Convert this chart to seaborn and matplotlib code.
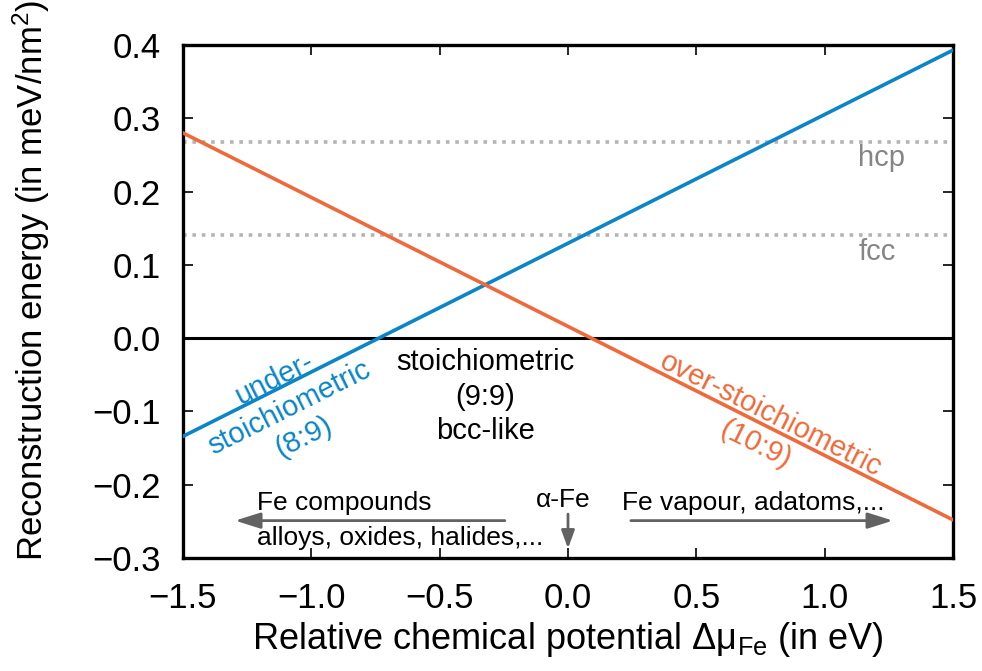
import matplotlib
matplotlib.use("Agg")
import matplotlib.pyplot as plt
import seaborn as sns
import pandas as pd
import numpy as np

# ---- data ----
mu_fe = [-1.5, 1.5]
under_stoich = [-0.134, 0.393]   # (8:9)
over_stoich = [0.280, -0.248]    # (10:9)
hcp_level = 0.268
fcc_level = 0.141
x_ticks = [-1.5, -1.0, -0.5, 0.0, 0.5, 1.0, 1.5]
y_ticks = [-0.3, -0.2, -0.1, 0.0, 0.1, 0.2, 0.3, 0.4]

BLUE = "#0a85c8"
ORANGE = "#f0693a"
GRAY_TXT = "#858585"
GRAY_DOT = "#b4b4b4"
ARROW = "#626262"

sns.set_theme(style="ticks")
plt.rcParams['font.family'] = ['Liberation Sans', 'DejaVu Sans']
plt.rcParams['mathtext.fontset'] = 'custom'
plt.rcParams['mathtext.rm'] = 'Liberation Sans'
plt.rcParams['mathtext.it'] = 'Liberation Sans:italic'
plt.rcParams['text.color'] = 'black'
plt.rcParams['axes.labelcolor'] = 'black'

df = pd.DataFrame({
    "mu": mu_fe * 2,
    "E": under_stoich + over_stoich,
    "series": ["under"] * len(mu_fe) + ["over"] * len(mu_fe),
})

fig = plt.figure(figsize=(9.82, 6.71), dpi=100)
ax = fig.add_axes([183 / 982, 1 - 558 / 671, 770 / 982, 513 / 671])

ax.axhline(hcp_level, color=GRAY_DOT, ls=(0, (1, 1.6)), lw=2.6, zorder=1)
ax.axhline(fcc_level, color=GRAY_DOT, ls=(0, (1, 1.6)), lw=2.6, zorder=1)
ax.axhline(0.0, color="black", lw=2.2, zorder=2)

sns.lineplot(data=df, x="mu", y="E", hue="series",
             palette={"under": BLUE, "over": ORANGE}, lw=2.6,
             legend=False, ax=ax, zorder=3)

ax.set_xlim(-1.5, 1.5)
ax.set_ylim(-0.3, 0.4)
ax.set_xticks(x_ticks)
ax.set_yticks(y_ticks)
ax.set_xticklabels([f"{v:.1f}".replace("-", "\u2212") for v in x_ticks])
ax.set_yticklabels([f"{v:.1f}".replace("-", "\u2212") for v in y_ticks])
ax.tick_params(direction="in", length=7, width=1.2, labelsize=25,
               top=True, right=True, colors="black")
ax.tick_params(axis="y", pad=16)
ax.tick_params(axis="x", pad=17)
for s in ax.spines.values():
    s.set_linewidth(2.4)
    s.set_color("black")
    s.set_visible(True)

ax.set_xlabel("Relative chemical potential \u0394\u03bc$_{\\mathrm{Fe}}$ (in eV)",
              fontsize=26, labelpad=4, color="black")
ax.set_ylabel("Reconstruction energy (in meV/nm$^{2}$)", fontsize=25, color="black")
ax.yaxis.set_label_coords(-0.170, 0.542)

# angle of lines on screen
def screen_angle(xs, ys):
    p = ax.transData.transform(np.column_stack([xs, ys]))
    d = p[1] - p[0]
    return np.degrees(np.arctan2(d[1], d[0]))

ang_u = screen_angle(mu_fe, under_stoich)
ang_o = screen_angle(mu_fe, over_stoich)

fs = 21
ax.text(-1.087, -0.095, "under-\nstoichiometric\n(8:9)", color=BLUE, fontsize=fs,
        rotation=ang_u, rotation_mode="anchor", ha="center", va="center",
        multialignment="center", linespacing=1.2)
ax.text(0.76, -0.125, "over-stoichiometric\n(10:9)", color=ORANGE, fontsize=fs,
        rotation=ang_o, rotation_mode="anchor", ha="center", va="center",
        multialignment="center", linespacing=1.2)
ax.text(-0.323, -0.080, "stoichiometric\n(9:9)\nbcc-like", color="black", fontsize=fs,
        ha="center", va="center", multialignment="center", linespacing=1.3)
ax.text(1.223, 0.246, "hcp", color=GRAY_TXT, fontsize=fs, ha="center", va="center")
ax.text(1.207, 0.118, "fcc", color=GRAY_TXT, fontsize=fs, ha="center", va="center")

# arrows and annotations
arrow_kw = dict(arrowstyle="-|>,head_length=0.7,head_width=0.22", color=ARROW, lw=2.0,
                mutation_scale=22, shrinkA=0, shrinkB=0)
ax.annotate("", xy=(-1.297, -0.249), xytext=(-0.246, -0.249), arrowprops=arrow_kw)
ax.annotate("", xy=(1.266, -0.249), xytext=(0.245, -0.249), arrowprops=arrow_kw)
ax.annotate("", xy=(0.0, -0.287), xytext=(0.0, -0.240),
            arrowprops=dict(arrowstyle="-|>,head_length=0.6,head_width=0.22", color=ARROW,
                            lw=2.0, mutation_scale=18, shrinkA=0, shrinkB=0))
fs2 = 19
ax.text(-1.213, -0.225, "Fe compounds", fontsize=fs2, ha="left", va="center", color="black")
ax.text(-1.213, -0.273, "alloys, oxides, halides,...", fontsize=fs2, ha="left", va="center",
        color="black")
ax.text(-0.02, -0.221, "\u03b1-Fe", fontsize=fs2, ha="center", va="center", color="black")
ax.text(0.21, -0.225, "Fe vapour, adatoms,...", fontsize=fs2, ha="left", va="center",
        color="black")

fig.savefig("out.png", dpi=100)
